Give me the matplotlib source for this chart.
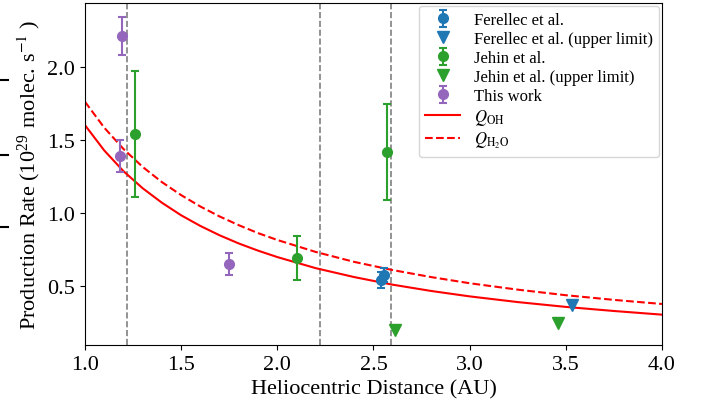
import numpy as np
import matplotlib
matplotlib.use("Agg")
import matplotlib.pyplot as plt
from matplotlib.lines import Line2D

plt.rcParams['font.family'] = ['Liberation Serif', 'DejaVu Serif']
plt.rcParams['mathtext.fontset'] = 'stix'

# Ferellec et al. (detections + upper limit)
fer_r = [2.54, 2.555]
fer_q = [0.54, 0.575]
fer_err = [0.055, 0.05]
fer_ul_r = [3.53]
fer_ul_q = [0.37]

# Jehin et al.
jeh_r = [1.258, 2.10, 2.57]
jeh_q = [1.54, 0.69, 1.415]
jeh_err = [0.43, 0.15, 0.33]
jeh_ul_r = [2.61, 3.46]
jeh_ul_q = [0.20, 0.245]

# This work
tw_r = [1.19, 1.18, 1.747]
tw_q = [2.21, 1.39, 0.65]
tw_err = [0.13, 0.11, 0.077]

# model curves
curve_r = [1.0, 1.1, 1.2, 1.3, 1.4, 1.5, 1.6, 1.7, 1.8, 1.9, 2.0, 2.2, 2.4, 2.6, 2.8, 3.0,
           3.25, 3.5, 3.75, 4.0]
q_oh = [1.600, 1.427, 1.285, 1.168, 1.069, 0.983, 0.910, 0.846, 0.790, 0.741, 0.697, 0.621,
        0.560, 0.508, 0.465, 0.428, 0.389, 0.356, 0.328, 0.303]
q_h2o = [1.760, 1.583, 1.437, 1.314, 1.210, 1.121, 1.043, 0.975, 0.915, 0.861, 0.814, 0.732,
         0.664, 0.608, 0.560, 0.518, 0.474, 0.436, 0.404, 0.376]

# dashed vertical markers
vlines = [1.22, 2.22, 2.59]

fig = plt.figure(figsize=(7.08, 4.10), dpi=100)
ax = fig.add_axes([0.120, 0.156, 0.815, 0.834])

for v in vlines:
    ax.axvline(v, color='gray', ls='--', lw=1.2, zorder=1)

h = []
h.append(ax.errorbar(fer_r, fer_q, yerr=fer_err, fmt='o', color='#1f77b4', ms=7, capsize=3,
                     elinewidth=1.5, capthick=1.5, label='Ferellec et al.', zorder=3))
h += ax.plot(fer_ul_r, fer_ul_q, 'v', color='#1f77b4', ms=9, ls='none',
             label='Ferellec et al. (upper limit)', zorder=3)
h.append(ax.errorbar(jeh_r, jeh_q, yerr=jeh_err, fmt='o', color='#2ca02c', ms=7, capsize=3,
                     elinewidth=1.5, capthick=1.5, label='Jehin et al.', zorder=3))
h += ax.plot(jeh_ul_r, jeh_ul_q, 'v', color='#2ca02c', ms=9, ls='none',
             label='Jehin et al. (upper limit)', zorder=3)
h.append(ax.errorbar(tw_r, tw_q, yerr=tw_err, fmt='o', color='#9467bd', ms=7, capsize=3,
                     elinewidth=1.5, capthick=1.5, label='This work', zorder=3))
h += ax.plot(curve_r, q_oh, color='red', lw=1.5, label=r'$Q_{\rm OH}$', zorder=2)
h += ax.plot(curve_r, q_h2o, color='red', lw=1.5, ls='--', label=r'$Q_{\rm H_2O}$', zorder=2)

ax.set_xlim(1.0, 4.0)
ax.set_ylim(0.095, 2.435)
ax.set_xticks([1.0, 1.5, 2.0, 2.5, 3.0, 3.5, 4.0])
ax.set_yticks([0.5, 1.0, 1.5, 2.0])
ax.tick_params(labelsize=16)
ax.set_xlabel('Heliocentric Distance (AU)', fontsize=16)
ax.set_ylabel(r'Production Rate ($\mathregular{10^{29}}\;\,$molec. s$^{-1}\;$)', fontsize=16)

ax.legend(handles=h, loc='upper right', fontsize=12, handlelength=2.1,
          labelspacing=0.18, borderaxespad=0.15)

# stray tick marks at the left edge of the image
for py in [81, 156, 228]:
    yf = 1 - py / 410
    fig.add_artist(Line2D([0, 8 / 708], [yf, yf], color='black', lw=1.5))

fig.savefig('out.png', dpi=100)
